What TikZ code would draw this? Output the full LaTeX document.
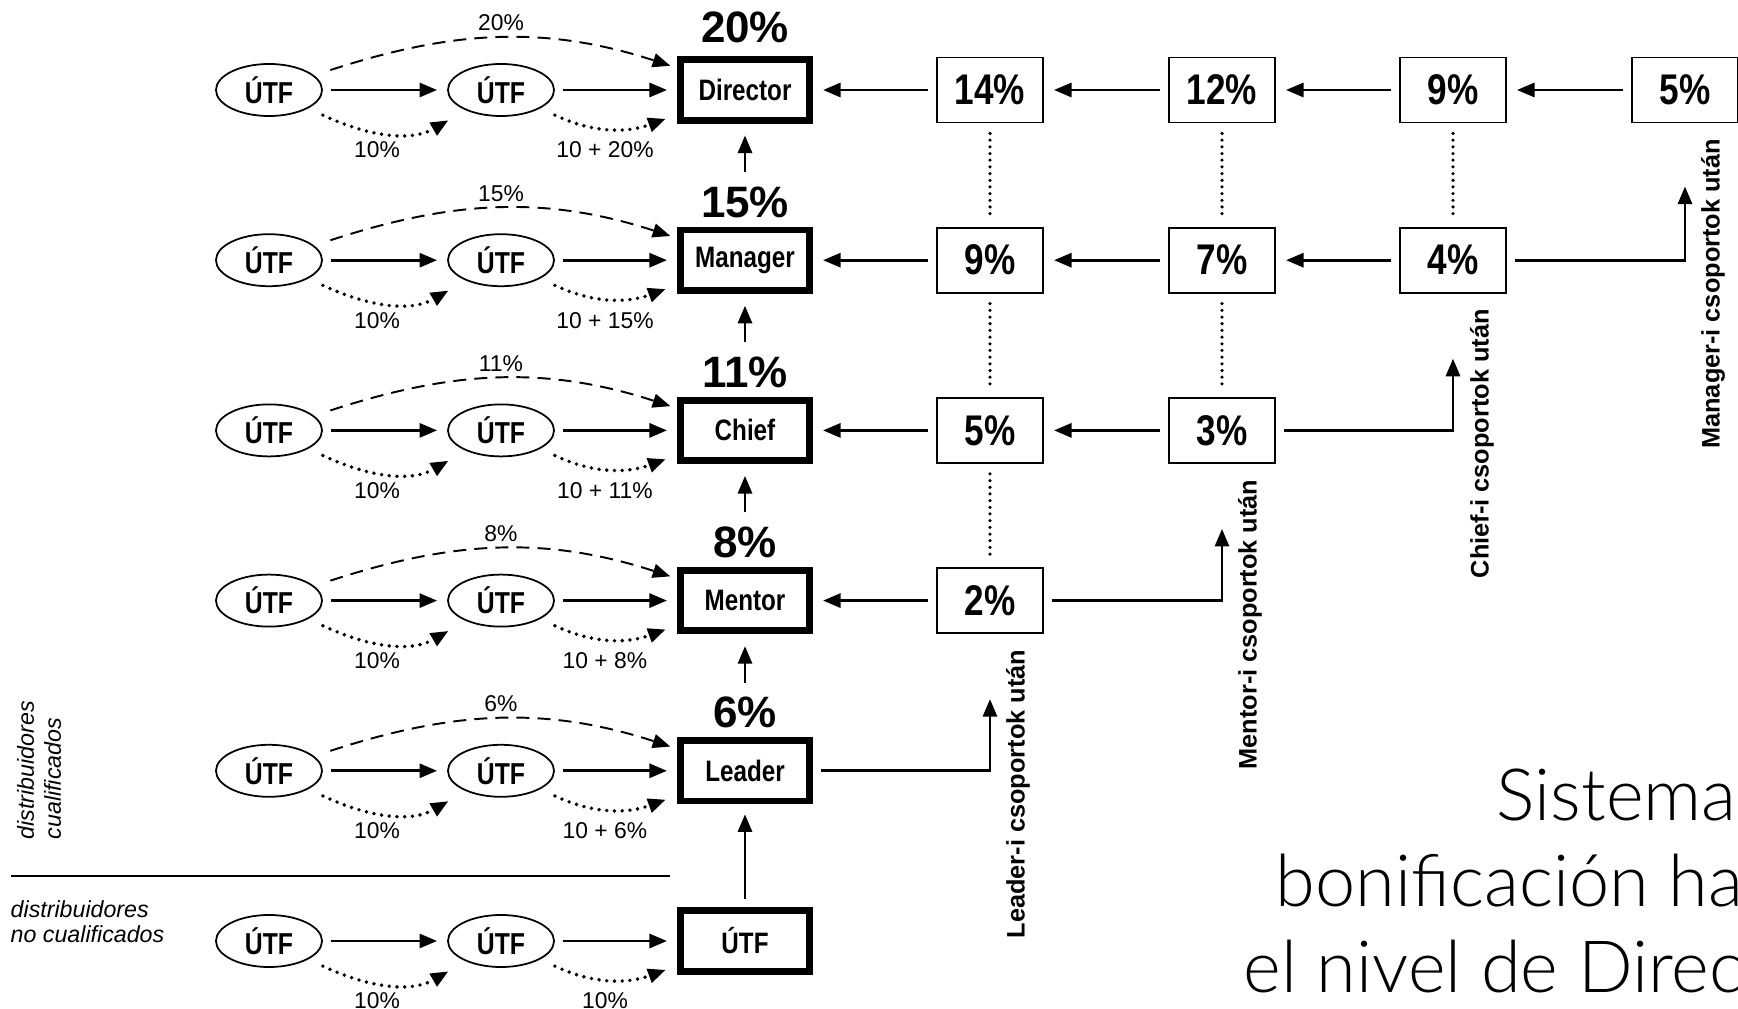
\documentclass[tikz,border=0pt]{standalone}
\usepackage{fontspec}
\setmainfont{Liberation Sans}
\newfontfamily\condfont[FakeStretch=0.82]{Liberation Sans}
\newfontfamily\lightfont{Lato Light}
\usepackage{tikz}
\usetikzlibrary{shapes.geometric,arrows.meta,positioning,calc}

\begin{document}
\begin{tikzpicture}[x=0.01cm, y=0.01cm,
    utf/.style={ellipse, draw, line width=0.5pt, minimum width=1.06cm, minimum height=0.52cm, inner sep=0pt, font=\condfont\bfseries\fontsize{8.6}{9}\selectfont},
    rank/.style={rectangle, draw, line width=1.9pt, minimum width=1.293cm, minimum height=0.603cm, inner sep=0pt, font=\condfont\bfseries\fontsize{8.4}{9}\selectfont},
    pct/.style={rectangle, draw, line width=0.55pt, minimum width=1.06cm, minimum height=0.65cm, inner sep=0pt, font=\condfont\bfseries\fontsize{12.2}{14}\selectfont},
    big/.style={inner sep=0pt, font=\bfseries\fontsize{12.5}{15}\selectfont},
    small/.style={inner sep=0pt, font=\fontsize{6.5}{8}\selectfont},
    vlabel/.style={rotate=90, anchor=east, inner sep=0pt, font=\bfseries\fontsize{7.2}{9}\selectfont},
    arr/.style={-{Triangle[length=5pt,width=4pt]}, line width=0.8pt, shorten <=0.08cm, shorten >=0.1cm},
    dasharr/.style={arr, line width=0.55pt, dash pattern=on 3.7pt off 2.3pt, shorten <=0.17cm, shorten >=0.07cm},
    dotarr/.style={arr, line width=1.1pt, line cap=round, dash pattern=on 0pt off 2.2pt, shorten <=0.16cm, shorten >=0.2cm},
    vdots/.style={line width=1pt, line cap=round, dash pattern=on 0pt off 1.9pt, shorten <=0.1cm, shorten >=0.1cm}
]
    \useasboundingbox (0,0) rectangle (1738,-1009);

    % qualified rows
    \foreach \r/\lvl/\pct/\dy in {1/Director/20/63, 2/Manager/15/58, 3/Chief/11/58, 4/Mentor/8/58, 5/Leader/6/58} {
        \pgfmathsetmacro\y{-90-170.2*(\r-1)}
        \node[utf] (a\r) at (269,\y) {ÚTF};
        \node[utf] (b\r) at (501,\y) {ÚTF};
        \node[rank] (r\r) at (745,\y) {\lvl};
        \node[big] (k\r) at (745,\y+\dy) {\pct\%};
        \node[small] (t\r) at (501,\y+67) {\pct\%};
        \node[small] (s\r) at (377,\y-60) {10\%};
        \node[small] (w\r) at (605,\y-60) {10 + \pct\%};
        \draw[arr] (a\r) -- (b\r);
        \draw[arr] (b\r) -- (r\r);
        \draw[dasharr] (a\r) to[out=18,in=162] (r\r);
        \draw[dotarr] (a\r) to[out=-25,in=-150,looseness=1.05] (b\r);
        \draw[dotarr, shorten >=0.12cm] (b\r) to[out=-25,in=-160,looseness=1.05] (r\r);
    }

    % unqualified row
    \node[utf] (a6) at (269,-941) {ÚTF};
    \node[utf] (b6) at (501,-941) {ÚTF};
    \node[rank] (r6) at (745,-941) {ÚTF};
    \node[small] (s6) at (377,-1001) {10\%};
    \node[small] (w6) at (605,-1001) {10\%};
    \draw[arr] (a6) -- (b6);
    \draw[arr] (b6) -- (r6);
    \draw[dotarr] (a6) to[out=-25,in=-150,looseness=1.05] (b6);
    \draw[dotarr, shorten >=0.12cm] (b6) to[out=-25,in=-160,looseness=1.05] (r6);

    % ladder
    \foreach \r/\p in {2/1, 3/2, 4/3, 5/4}
        \draw[arr, shorten <=0.14cm, shorten >=0.12cm] (k\r) -- (r\p);
    \draw[arr] (r6) -- (r5);

    % group bonus boxes
    \node[pct] (q11) at (990,-90) {14\%};
    \node[pct] (q12) at (1222,-90) {12\%};
    \node[pct] (q13) at (1453,-90) {9\%};
    \node[pct] (q14) at (1685,-90) {5\%};
    \node[pct] (q21) at (990,-260.2) {9\%};
    \node[pct] (q22) at (1222,-260.2) {7\%};
    \node[pct] (q23) at (1453,-260.2) {4\%};
    \node[pct] (q31) at (990,-430.4) {5\%};
    \node[pct] (q32) at (1222,-430.4) {3\%};
    \node[pct] (q41) at (990,-600.6) {2\%};

    \draw[arr] (q11) -- (r1);
    \draw[arr] (q12) -- (q11);
    \draw[arr] (q13) -- (q12);
    \draw[arr] (q14) -- (q13);
    \draw[arr] (q21) -- (r2);
    \draw[arr] (q22) -- (q21);
    \draw[arr] (q23) -- (q22);
    \draw[arr] (q31) -- (r3);
    \draw[arr] (q32) -- (q31);
    \draw[arr] (q41) -- (r4);

    \draw[vdots] (q11) -- (q21);
    \draw[vdots] (q21) -- (q31);
    \draw[vdots] (q31) -- (q41);
    \draw[vdots] (q12) -- (q22);
    \draw[vdots] (q22) -- (q32);
    \draw[vdots] (q13) -- (q23);

    % after groups
    \coordinate (u1) at ($(q41.south)+(0,-65)$);
    \coordinate (u2) at ($(q32.south)+(0,-65)$);
    \coordinate (u3) at ($(q23.south)+(0,-65)$);
    \coordinate (u4) at ($(q14.south)+(0,-63)$);
    \draw[arr, shorten >=0pt] (r5) -| (u1);
    \draw[arr, shorten >=0pt] (q41) -| (u2);
    \draw[arr, shorten >=0pt] (q32) -| (u3);
    \draw[arr, shorten >=0pt] (q23) -| (u4);
    \node[vlabel] (lab1) at ($(q41.south)+(28,-15)$) {Leader-i csoportok után};
    \node[vlabel] (lab2) at ($(q32.south)+(28,-15)$) {Mentor-i csoportok után};
    \node[vlabel] (lab3) at ($(q23.south)+(29,-15)$) {Chief-i csoportok után};
    \node[vlabel] (lab4) at ($(q14.south)+(28,-15)$) {Manager-i csoportok után};

    % distributors
    \node[rotate=90, anchor=west, align=left, inner sep=0pt, font=\itshape\fontsize{6.6}{7.7}\selectfont] (qual) at (39,-840) {distribuidores\\cualificados};
    \draw[line width=0.85pt] (11,-876) -- (670,-876);
    \node[anchor=north west, align=left, inner sep=0pt, font=\itshape\fontsize{6.6}{7.1}\selectfont] (unqual) at (10,-900) {distribuidores\\no cualificados};

    % title
    \node[anchor=north east, align=right, inner sep=0pt, font=\lightfont\fontsize{20.5}{24.5}\selectfont] (title) at (1834,-767) {Sistema de\\bonificación hasta\\el nivel de Director};
\end{tikzpicture}
\end{document}
